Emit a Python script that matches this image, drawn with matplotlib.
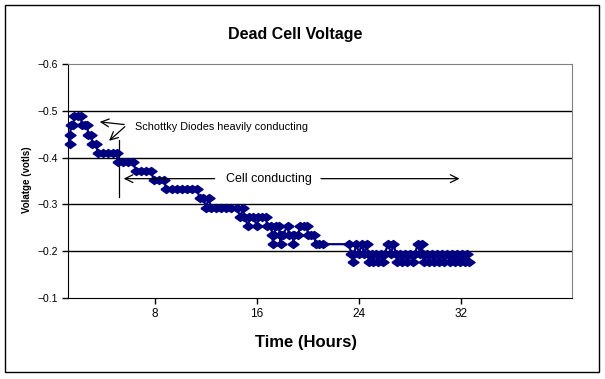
import matplotlib
matplotlib.use('Agg')
import matplotlib.pyplot as plt
from matplotlib.patches import Rectangle

# Data (time in hours, cell voltage in volts)
hours = [1.3, 1.35, 1.4, 1.6, 1.65, 1.95, 2.2, 2.25, 2.5, 2.7, 2.75, 3.0, 3.1, 3.4,
         3.5, 3.9, 4.3, 4.7, 5.0, 5.1, 5.5, 5.9, 6.3, 6.5, 6.9, 7.3, 7.7, 7.9, 8.3, 8.7,
         8.9, 9.3, 9.7, 10.1, 10.5, 10.9, 11.3, 11.5, 11.8, 12.0, 12.2, 12.4, 12.8, 13.2,
         13.6, 14.0, 14.4, 14.7, 14.9, 15.0, 15.3, 15.4, 15.7, 16.0, 16.1, 16.4, 16.7,
         16.8, 17.1, 17.2, 17.25, 17.3, 17.5, 17.7, 17.8, 17.85, 17.9, 18.0, 18.4, 18.5,
         18.8, 18.85, 18.9, 19.2, 19.4, 19.7, 19.9, 20.0, 20.2, 20.5, 20.6, 20.9, 21.2,
         23.2, 23.4, 23.5, 23.6, 23.8, 24.0, 24.2, 24.4, 24.6, 24.7, 24.8, 25.0, 25.1,
         25.3, 25.5, 25.7, 25.9, 26.0, 26.3, 26.5, 26.7, 26.9, 27.0, 27.2, 27.4, 27.6,
         27.8, 28.0, 28.2, 28.4, 28.6, 28.8, 28.9, 29.0, 29.1, 29.3, 29.5, 29.7, 29.9,
         30.1, 30.3, 30.5, 30.7, 30.9, 31.1, 31.3, 31.5, 31.7, 31.9, 32.1, 32.3, 32.5, 32.6]
volts = [-0.430, -0.449, -0.469, -0.469, -0.488, -0.488, -0.488, -0.469, -0.469, -0.469,
         -0.449, -0.449, -0.430, -0.430, -0.410, -0.410, -0.410, -0.410, -0.410, -0.391,
         -0.391, -0.391, -0.391, -0.371, -0.371, -0.371, -0.371, -0.352, -0.352, -0.352,
         -0.332, -0.332, -0.332, -0.332, -0.332, -0.332, -0.332, -0.313, -0.313, -0.293,
         -0.313, -0.293, -0.293, -0.293, -0.293, -0.293, -0.293, -0.273, -0.293, -0.273,
         -0.254, -0.273, -0.273, -0.254, -0.273, -0.273, -0.273, -0.254, -0.254, -0.234,
         -0.215, -0.234, -0.254, -0.254, -0.234, -0.215, -0.234, -0.234, -0.254, -0.234,
         -0.234, -0.215, -0.234, -0.234, -0.254, -0.254, -0.254, -0.234, -0.234, -0.234,
         -0.215, -0.215, -0.215,
         -0.215, -0.195, -0.176, -0.195, -0.215, -0.195, -0.215, -0.195, -0.215, -0.195,
         -0.176, -0.195, -0.176, -0.195, -0.176, -0.195, -0.176, -0.195, -0.215, -0.195,
         -0.215, -0.195, -0.176, -0.195, -0.176, -0.195, -0.176, -0.195, -0.176, -0.195,
         -0.215, -0.195, -0.215, -0.195, -0.176, -0.195, -0.176, -0.195, -0.176, -0.195,
         -0.176, -0.195, -0.176, -0.195, -0.176, -0.195, -0.176, -0.195, -0.176, -0.195,
         -0.176, -0.195, -0.176]

x_ticks = [8, 16, 24, 32]
y_ticks = [-0.6, -0.5, -0.4, -0.3, -0.2, -0.1]
y_labels = ['\u22120.6', '\u22120.5', '\u22120.4', '\u22120.3', '\u22120.2', '\u22120.1']

plt.rcParams['font.family'] = ['Liberation Sans', 'DejaVu Sans']

fig = plt.figure(figsize=(6.05, 3.79), dpi=100)
ax = fig.add_axes([68/605, 1-298/379, 504/605, 234/379])

# gridlines
for v in y_ticks[1:-1]:
    ax.axhline(v, color='black', lw=1, zorder=1)

# flat diamond like the spreadsheet marker
diamond = [(-1, 0), (0, 0.72), (1, 0), (0, -0.72), (-1, 0)]
ax.plot(hours, volts, color='#000080', lw=1.6, marker=diamond, ms=8,
        markeredgecolor='#000080', markerfacecolor='#000080', zorder=3,
        clip_on=False)

ax.set_xlim(1.18, 40.7)
ax.set_ylim(-0.1, -0.6)
ax.set_xticks(x_ticks)
ax.set_xticklabels([str(t) for t in x_ticks], fontsize=8.5)
ax.set_yticks(y_ticks)
ax.set_yticklabels(y_labels, fontsize=7.5)
ax.tick_params(direction='out', length=4, width=1, color='black', pad=3)
ax.spines['top'].set_color('#808080')
ax.spines['right'].set_color('#808080')
for s in ['left', 'bottom']:
    ax.spines[s].set_color('black')

# annotations
arrow = dict(arrowstyle='->', color='black', lw=0.9, mutation_scale=14)
ax.annotate('', xy=(3.45, -0.477), xytext=(5.8, -0.470), arrowprops=arrow)
ax.annotate('', xy=(4.24, -0.432), xytext=(5.8, -0.470), arrowprops=arrow)
ax.text(6.4, -0.466, 'Schottky Diodes heavily conducting', fontsize=7.8,
        ha='left', va='center')
ax.plot([5.18, 5.18], [-0.438, -0.315], color='black', lw=0.9)
ax.annotate('', xy=(5.33, -0.355), xytext=(12.9, -0.355), arrowprops=arrow)
ax.annotate('', xy=(32.1, -0.355), xytext=(20.8, -0.355), arrowprops=arrow)
ax.text(16.9, -0.355, 'Cell conducting', fontsize=9, ha='center', va='center')

fig.text(295/605, 1-35/379, 'Dead Cell Voltage', fontsize=11.5, weight='bold',
         ha='center', va='center')
fig.text(306/605, 1-343/379, 'Time (Hours)', fontsize=12, weight='bold',
         ha='center', va='center')
fig.text(27/605, 1-180/379, 'Volatge (votls)', fontsize=7, weight='bold',
         rotation=90, ha='center', va='center')

fig.patches.append(Rectangle((5/605, 1-372/379), 594/605, 367/379,
                             transform=fig.transFigure, fill=False,
                             edgecolor='black', lw=1))

fig.savefig('out.png', dpi=100)
